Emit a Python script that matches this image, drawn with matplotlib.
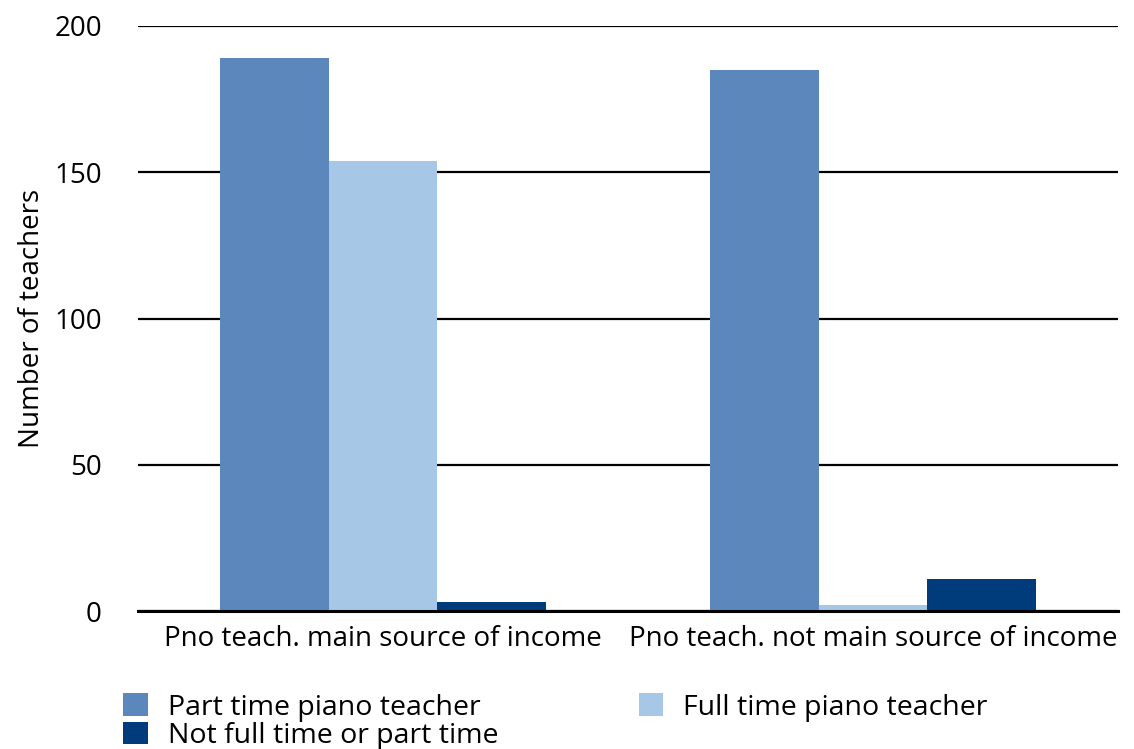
import matplotlib
matplotlib.use("Agg")
import matplotlib.pyplot as plt
import numpy as np

plt.rcParams['font.family'] = ['Open Sans', 'DejaVu Sans']

categories = ["Pno teach. main source of income", "Pno teach. not main source of income"]
series_names = ["Part time piano teacher", "Full time piano teacher", "Not full time or part time"]
part_time = [189, 185]
full_time = [154, 2]
neither = [3, 11]
colors = ["#5B87BD", "#A6C7E5", "#003C7B"]
yticks = [0, 50, 100, 150, 200]

W, H = 1134, 749
fig = plt.figure(figsize=(W / 100, H / 100), dpi=100)
ax = fig.add_axes([138 / W, 1 - 611 / H, (1118 - 138) / W, (611 - 26) / H])

x = np.arange(len(categories))
bw = 0.222
handles = []
for i, (vals, name, col) in enumerate(zip([part_time, full_time, neither], series_names, colors)):
    h = ax.bar(x + (i - 1) * bw, vals, width=bw, color=col, label=name, zorder=3)
    handles.append(h)

ax.set_xlim(-0.5, 1.5)
ax.set_ylim(0, 200)
ax.set_yticks(yticks)
ax.yaxis.grid(True, color="black", linewidth=1.6, zorder=0)
ax.set_axisbelow(True)
for s in ["left", "right", "top"]:
    ax.spines[s].set_visible(False)
ax.spines["bottom"].set_color("black")
ax.spines["bottom"].set_linewidth(2.2)
ax.spines["bottom"].set_zorder(4)
ax.tick_params(axis="both", length=0, labelsize=20)
ax.tick_params(axis="y", pad=26)
ax.tick_params(axis="x", pad=10)
ax.set_xticks(x)
ax.set_xticklabels(categories)
ax.set_ylabel("Number of teachers", fontsize=20, labelpad=6)

order = [0, 2, 1]
leg = fig.legend([handles[i] for i in order], [series_names[i] for i in order],
                 ncol=2, loc="upper left", bbox_to_anchor=(112 / W, 1 - 682 / H),
                 frameon=False, fontsize=20.5, handlelength=0.85, handleheight=0.85,
                 handletextpad=0.7, columnspacing=4.95, labelspacing=0.0,
                 borderaxespad=0)

fig.savefig("out.png", dpi=100, facecolor="white")
